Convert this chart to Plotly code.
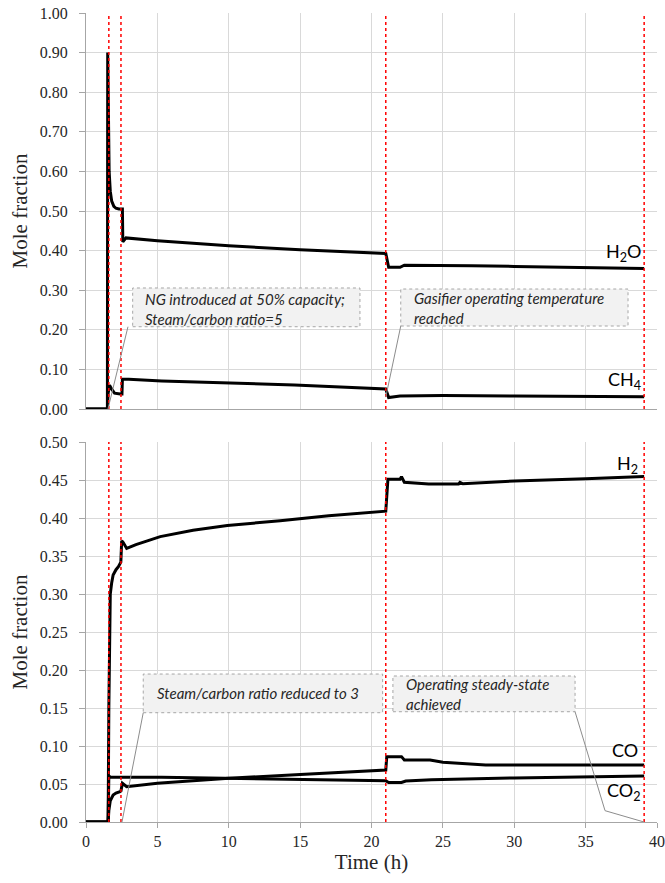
import plotly.graph_objects as go

# ---------------- data ----------------
event_times = [1.6, 2.45, 21.0, 39.1]

t_h2o = [0, 1.5, 1.52, 1.56, 1.62, 1.7, 1.8, 1.95, 2.1, 2.3, 2.55, 2.58, 2.8, 5, 7.5, 10, 15, 21, 21.2, 22, 22.3, 24, 27, 30, 35, 39.1]
h2o = [0, 0, 0.90, 0.75, 0.60, 0.55, 0.525, 0.512, 0.507, 0.505, 0.505, 0.422, 0.432, 0.425, 0.418, 0.412, 0.402, 0.393, 0.358, 0.358, 0.363, 0.363, 0.362, 0.360, 0.358, 0.355]

t_ch4 = [0, 1.5, 1.55, 1.65, 1.8, 2.0, 2.4, 2.52, 2.55, 3, 5.3, 10, 14.6, 21, 21.2, 22, 25, 30, 39.1]
ch4 = [0, 0, 0.04, 0.06, 0.05, 0.04, 0.038, 0.038, 0.075, 0.075, 0.071, 0.065, 0.0606, 0.0505, 0.029, 0.033, 0.034, 0.033, 0.031]

t_h2 = [0, 1.55, 1.6, 1.65, 1.7, 1.8, 1.9, 2.1, 2.27, 2.44, 2.5, 2.6, 2.85, 3.5, 5.2, 7.5, 9.9, 13.6, 17, 21, 21.15, 22.0, 22.1, 22.3, 24, 26.1, 26.2, 26.4, 30, 35, 39.1]
h2 = [0, 0, 0.15, 0.28, 0.30, 0.315, 0.325, 0.332, 0.336, 0.342, 0.37, 0.368, 0.360, 0.365, 0.3755, 0.384, 0.390, 0.3965, 0.403, 0.409, 0.451, 0.451, 0.4545, 0.447, 0.4447, 0.4447, 0.447, 0.445, 0.4487, 0.4517, 0.4545]

t_co = [0, 1.55, 1.6, 1.7, 1.9, 2.1, 2.38, 2.45, 2.55, 2.85, 5, 10, 15, 21, 21.07, 22.1, 22.3, 24.1, 25, 26.9, 28, 35, 39.1]
co = [0, 0, 0.015, 0.028, 0.0355, 0.038, 0.040, 0.041, 0.051, 0.0465, 0.051, 0.0575, 0.0625, 0.0684, 0.086, 0.086, 0.0816, 0.0816, 0.0785, 0.076, 0.075, 0.075, 0.075]

t_co2 = [0, 1.55, 1.6, 1.7, 5.3, 10, 21, 21.2, 22.1, 22.4, 24, 24.2, 30, 39.1]
co2 = [0, 0, 0.061, 0.0588, 0.0588, 0.0575, 0.0543, 0.052, 0.052, 0.054, 0.0545, 0.0555, 0.058, 0.0605]

x_ticks = [0, 5, 10, 15, 20, 25, 30, 35, 40]

# ---------------- figure ----------------
fig = go.Figure()
line_style = dict(color="black", width=3)

fig.add_trace(go.Scatter(x=t_h2o, y=h2o, mode="lines", line=line_style, xaxis="x", yaxis="y", showlegend=False))
fig.add_trace(go.Scatter(x=t_ch4, y=ch4, mode="lines", line=line_style, xaxis="x", yaxis="y", showlegend=False))
fig.add_trace(go.Scatter(x=t_h2, y=h2, mode="lines", line=line_style, xaxis="x2", yaxis="y2", showlegend=False))
fig.add_trace(go.Scatter(x=t_co, y=co, mode="lines", line=line_style, xaxis="x2", yaxis="y2", showlegend=False))
fig.add_trace(go.Scatter(x=t_co2, y=co2, mode="lines", line=line_style, xaxis="x2", yaxis="y2", showlegend=False))

tickfont = dict(family="Liberation Serif", size=16, color="#262626")
titlefont = dict(family="Liberation Serif", size=21, color="#262626")
grid = "#d9d9d9"
axcol = "#a6a6a6"

common_x = dict(range=[0, 40], tickvals=x_ticks, showgrid=True, gridcolor=grid, gridwidth=1,
                showline=True, linecolor=axcol, linewidth=1, zeroline=False, automargin=False,
                ticks="outside", ticklen=5, tickcolor=axcol, tickfont=tickfont,
                ticklabeloverflow="allow")
common_y = dict(showgrid=True, gridcolor=grid, gridwidth=1, showline=True, linecolor=axcol,
                linewidth=1, zeroline=False, ticks="outside", ticklen=6, tickcolor=axcol,
                tickfont=tickfont, tickformat=".2f", automargin=False, ticklabelstandoff=8,
                ticklabeloverflow="allow",
                title=dict(text="Mole fraction", font=titlefont, standoff=6))

fig.update_layout(
    width=665, height=883,
    margin=dict(l=86, r=8, t=13, b=61, autoexpand=False),
    plot_bgcolor="white", paper_bgcolor="white",
    xaxis=dict(common_x, anchor="y", showticklabels=False, ticks=""),
    yaxis=dict(common_y, domain=[0.5105, 1.0], range=[0, 1.0], dtick=0.1, anchor="x"),
    xaxis2=dict(common_x, anchor="y2",
                title=dict(text="Time (h)", font=titlefont, standoff=2)),
    yaxis2=dict(common_y, domain=[0.0, 0.4697], range=[0, 0.5], dtick=0.05, anchor="x2"),
)

shapes = []
# red dotted event lines
for t in event_times:
    for xr, yr in (("x", "y domain"), ("x2", "y2 domain")):
        shapes.append(dict(type="line", xref=xr, yref=yr, x0=t, x1=t, y0=0, y1=1,
                           line=dict(color="red", width=1.5, dash="dot")))

box_style = dict(type="rect", fillcolor="#f2f2f2", line=dict(color="#a6a6a6", width=1, dash="dot"))
leader = dict(color="#8c8c8c", width=1)

# annotation boxes (x0, x1, y0, y1) in data units of each panel
shapes.append(dict(box_style, xref="x", yref="y", x0=3.27, x1=19.19, y0=0.2078, y1=0.3056))
shapes.append(dict(box_style, xref="x", yref="y", x0=22.05, x1=37.97, y0=0.2096, y1=0.303))
shapes.append(dict(box_style, xref="x2", yref="y2", x0=4.01, x1=20.78, y0=0.1438, y1=0.1947))
shapes.append(dict(box_style, xref="x2", yref="y2", x0=21.5, x1=34.26, y0=0.1451, y1=0.1921))

# leader lines
shapes.append(dict(type="line", xref="x", yref="y", x0=2.94, y0=0.2078, x1=1.54, y1=0.0, line=leader))
shapes.append(dict(type="line", xref="x", yref="y", x0=22.05, y0=0.2096, x1=21.0, y1=0.03, line=leader))
shapes.append(dict(type="line", xref="x2", yref="y2", x0=4.01, y0=0.1438, x1=2.52, y1=0.0, line=leader))
shapes.append(dict(type="path", xref="x2", yref="y2",
                   path="M 34.26 0.1451 L 36.36 0.0149 L 39.09 0.0", line=leader))

fig.update_layout(shapes=shapes)

notefont = dict(family="Lato", size=15, color="#262626")
labelfont = dict(family="Lato", size=18, color="black")

annotations = [
    dict(xref="x", yref="y", x=3.99, y=0.2538, xanchor="left", yanchor="middle", align="left",
         text="<i>NG introduced at 50% capacity;<br>Steam/carbon ratio=5</i>", font=notefont, showarrow=False),
    dict(xref="x", yref="y", x=22.82, y=0.2563, xanchor="left", yanchor="middle", align="left",
         text="<i>Gasifier operating temperature<br>reached</i>", font=notefont, showarrow=False),
    dict(xref="x2", yref="y2", x=4.83, y=0.1693, xanchor="left", yanchor="middle", align="left",
         text="<i>Steam/carbon ratio reduced to 3</i>", font=notefont, showarrow=False),
    dict(xref="x2", yref="y2", x=22.28, y=0.1682, xanchor="left", yanchor="middle", align="left",
         text="<i>Operating steady-state<br>achieved</i>", font=notefont, showarrow=False),
    # series labels
    dict(xref="x", yref="y", x=39.0, y=0.396, xanchor="right", yanchor="middle",
         text="H<sub>2</sub>O", font=labelfont, showarrow=False),
    dict(xref="x", yref="y", x=39.0, y=0.071, xanchor="right", yanchor="middle",
         text="CH<sub>4</sub>", font=labelfont, showarrow=False),
    dict(xref="x2", yref="y2", x=38.8, y=0.471, xanchor="right", yanchor="middle",
         text="H<sub>2</sub>", font=labelfont, showarrow=False),
    dict(xref="x2", yref="y2", x=38.8, y=0.0951, xanchor="right", yanchor="middle",
         text="CO", font=labelfont, showarrow=False),
    dict(xref="x2", yref="y2", x=39.0, y=0.0395, xanchor="right", yanchor="middle",
         text="CO<sub>2</sub>", font=labelfont, showarrow=False),
]
fig.update_layout(annotations=annotations)

fig.write_html("out.html", config={"displayModeBar": False},
               post_script="document.body.style.margin='0';")
